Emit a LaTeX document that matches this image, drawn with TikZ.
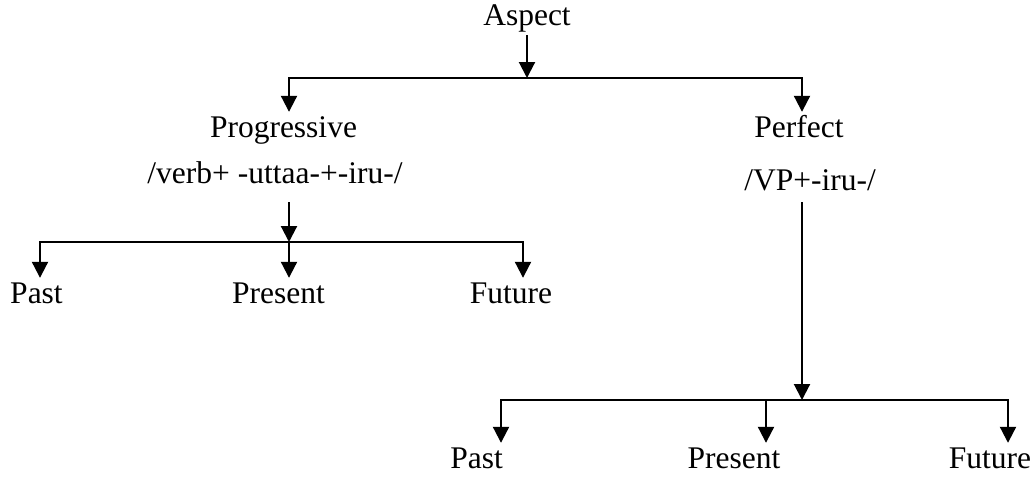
\documentclass[tikz,border=0pt]{standalone}
\usepackage{fontspec}
\setmainfont{Liberation Serif}
\usetikzlibrary{arrows.meta}
\begin{document}
\begin{tikzpicture}[x=1pt,y=-1pt,
  lbl/.style={font=\fontsize{31.5}{38}\selectfont, anchor=base, inner sep=3pt, text height=22pt, text depth=7pt},
  link/.style={line width=2.1pt, line join=miter},
  arr/.style={link, -{Triangle[width=16pt,length=16pt]}}]
\useasboundingbox (0,0) rectangle (1036,477);
% labels
\node[lbl] (asp)   at (527,25)    {Aspect};
\node[lbl] (prog)  at (283.5,137) {Progressive};
\node[lbl] (perf)  at (799,137)   {Perfect};
\node[lbl] (verb)  at (275,183)   {/verb+ -uttaa-+-iru-/};
\node[lbl] (vp)    at (810,190)   {/VP+-iru-/};
\node[lbl] (pastA) at (36.5,303)  {Past};
\node[lbl] (presA) at (278.5,303) {Present};
\node[lbl] (futA)  at (511,303)   {Future};
\node[lbl] (pastB) at (476.5,468) {Past};
\node[lbl] (presB) at (734,468)   {Present};
\node[lbl] (futB)  at (990,468)   {Future};
% junctions on the bars
\coordinate (j0)  at (527,78);
\coordinate (b0l) at (289,78);
\coordinate (b0r) at (802,78);
\coordinate (j1)  at (289,242);
\coordinate (b1l) at (40,242);
\coordinate (b1r) at (523,242);
\coordinate (j2)  at (802,400);
\coordinate (b2l) at (501,400);
\coordinate (b2m) at (766,400);
\coordinate (b2r) at (1008,400);
\path ([yshift=-9pt]verb.south) coordinate (vs);
\path ([yshift=-2pt]vp.south) coordinate (ps);
% Aspect level
\draw[arr] (asp.south) -- (j0);
\draw[arr] (j0) -- (b0l) -- (b0l |- prog.north);
\draw[arr] (j0) -- (b0r) -- (b0r |- perf.north);
% Progressive branch
\draw[arr] (vs -| j1) -- (j1);
\draw[arr] (j1) -- (b1l) -- (b1l |- pastA.north);
\draw[arr] (j1) -- (b1r) -- (b1r |- futA.north);
\draw[arr] (j1) -- (j1 |- presA.north);
% Perfect branch
\draw[arr] (ps -| j2) -- (j2);
\draw[arr] (j2) -- (b2l) -- (b2l |- pastB.north);
\draw[arr] (j2) -- (b2r) -- (b2r |- futB.north);
\draw[arr] (b2m) -- (b2m |- presB.north);
\end{tikzpicture}
\end{document}
